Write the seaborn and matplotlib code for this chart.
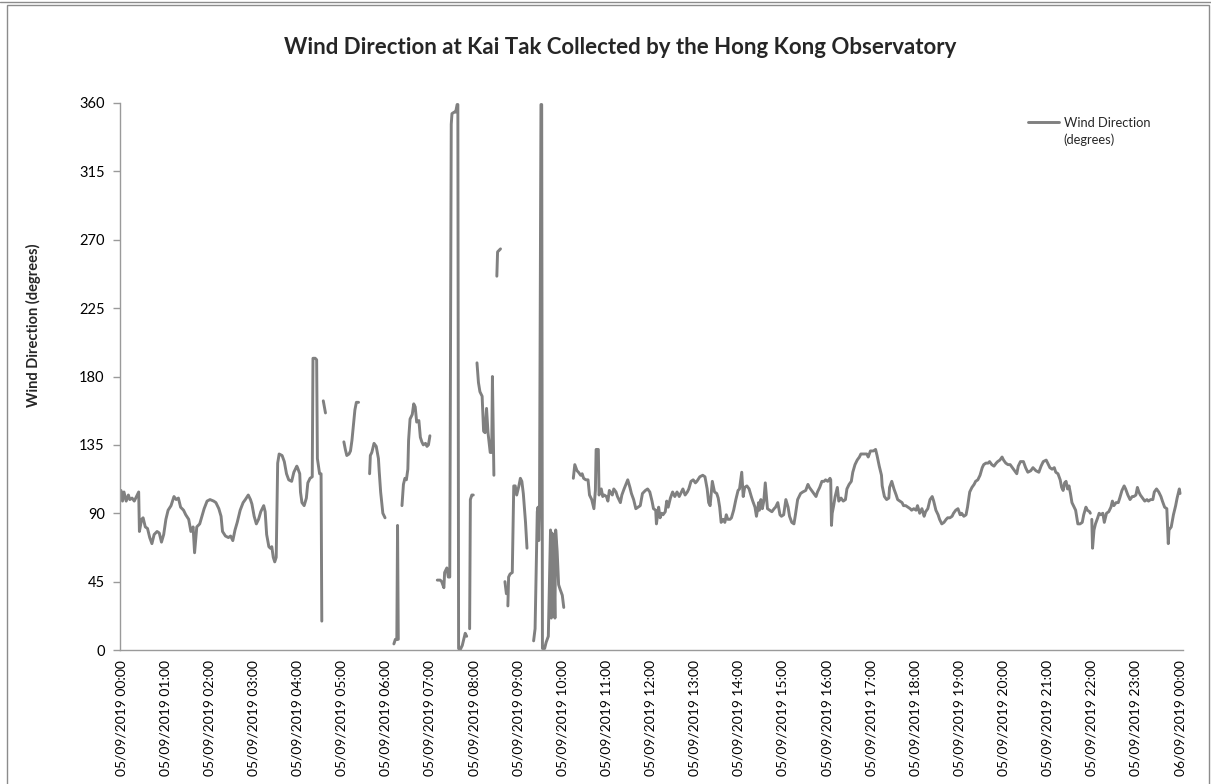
import numpy as np
import pandas as pd
import matplotlib
matplotlib.use("Agg")
import matplotlib.pyplot as plt
import matplotlib.dates as mdates
from matplotlib.lines import Line2D
from matplotlib.patches import Rectangle
import seaborn as sns

# --- Readings: minutes after 05/09/2019 00:00 and direction in degrees ---
# None marks missing readings (gaps in the line)
early_min = [0, 2, 4, 7, 10, 12, 15, 18, 21, 24, 25, 28,
             30, 33, 36, 39, 42, 45, 49, 52, 55, 58, 61, 64,
             68, 72, 75, 78, 81, 85, 88, 92, 95, 98, 100, 103,
             107, 110, 113, 117, 121, 126, 129, 133, 136, 138, 142, 146,
             149, 152, 155, 158, 162, 166, 169, 173, 176, 178, 181, 184,
             187, 190, 194, 196, 198, 201, 203, 205, 207, 209, 211, 213,
             215, 219, 222, 225, 228, 232, 235, 239, 240, 243, 244, 246,
             249, 252, 254, 257, 260, 261, 264, 266, 267, 270, 272, 273,
             274, 275, 278, 290]
early_dir = [105, 98, 104, 98, 102, 99, 100, 98, 101, 104, 78, 86,
             87, 81, 80, 74, 70, 76, 78, 77, 71, 76, 86, 92,
             95, 101, 99, 100, 94, 92, 89, 86, 78, 81, 64, 81,
             83, 88, 93, 98, 99, 98, 97, 93, 88, 78, 75, 74,
             75, 72, 79, 84, 92, 97, 99, 102, 99, 96, 88, 83,
             86, 91, 95, 91, 76, 68, 67, 68, 61, 58, 61, 123,
             129, 128, 124, 116, 112, 111, 117, 121, 120, 116, 104, 97,
             95, 100, 110, 113, 114, 192, 192, 191, 126, 116, 116, 19,
             None, 164, 156, None]

gusty_min = [303, 305, 307, 310, 312, 314, 316, 318, 320, 323, 330, 338,
             339, 341, 344, 347, 350, 351, 353, 356, 359, 365, 371, 373,
             375, 376, 377, 380, 382, 384, 386, 388, 390, 391, 393, 396,
             398, 400, 402, 405, 407, 409, 411, 414, 416, 418, 420, 425,
             430, 434, 436, 439, 440, 443, 445, 447, 449, 450, 453, 455,
             457, 458, 459, 461, 464, 466, 468, 470, 472, 474, 475, 477,
             479, 481, 484, 486, 488, 491, 493, 495, 497, 499, 502, 504,
             505, 507, 509, 511, 512, 516, 519, 522, 524, 525, 526, 527,
             529, 532, 534, 536, 538, 541, 543, 545, 547, 550, 552, 556,
             561, 563, 566, 567, 568, 569, 571, 572, 573, 576, 578, 581,
             584, 585, 586, 588, 590, 591, 593, 595, 597, 600, 602, 608]
gusty_dir = [137, 132, 128, 129, 131, 138, 148, 158, 163, 163, None, 116,
             128, 130, 136, 134, 126, 118, 104, 90, 87, None, 4, 7,
             7, 82, 7, None, 95, 109, 113, 112, 119, 138, 152, 155,
             162, 160, 150, 151, 140, 137, 135, 136, 134, 135, 141, None,
             46, 46, 45, 41, 51, 54, 48, 48, 346, 353, 354, 354,
             359, 359, 1, 0, 3, 7, 11, 9, None, 14, 99, 102,
             102, None, 189, 176, 170, 167, 144, 143, 159, 143, 130, 130,
             180, 115, None, 246, 262, 264, None, 45, 37, None, 29, 48,
             50, 51, 108, 108, 102, 108, 113, 111, 103, 84, 67, None,
             6, 14, 91, 94, 72, 91, 359, 359, 1, 1, 5, 9,
             79, 21, 77, 72, 21, 79, 65, 43, 40, 36, 28, None]

late_min = [615, 617, 620, 622, 625, 627, 629, 632, 635, 637, 640, 643,
            645, 646, 649, 650, 653, 655, 657, 660, 662, 664, 668, 670,
            673, 675, 679, 681, 684, 689, 692, 694, 697, 700, 703, 706,
            709, 713, 716, 719, 722, 724, 727, 728, 731, 733, 735, 737,
            740, 742, 744, 747, 750, 753, 756, 759, 762, 764, 767, 770,
            772, 775, 778, 781, 783, 787, 791, 794, 797, 799, 801, 804,
            807, 810, 812, 814, 816, 819, 821, 823, 825, 828, 830, 833,
            836, 839, 841, 844, 846, 848, 851, 854, 857, 859, 862, 864,
            867, 868, 870, 872, 874, 876, 878, 879, 882, 885, 888, 890,
            893, 896, 898, 901, 904, 907, 909, 912, 915, 917, 920, 924,
            927, 931, 934, 936, 939, 942, 945, 947, 950, 953, 956, 958,
            961, 964, 965, 966, 967, 969, 971, 974, 976, 979, 982, 985,
            987, 990, 993, 995, 998, 1001, 1004, 1006, 1010, 1014, 1016, 1019,
            1023, 1026, 1028, 1031, 1034, 1035, 1038, 1041, 1044, 1045, 1048, 1051,
            1054, 1056, 1059, 1062, 1064, 1067, 1070, 1073, 1075, 1078, 1081, 1083,
            1086, 1089, 1092, 1094, 1097, 1100, 1103, 1105, 1108, 1111, 1113, 1116,
            1119, 1122, 1124, 1127, 1130, 1132, 1135, 1138, 1141, 1143, 1146, 1149,
            1151, 1154, 1157, 1160, 1162, 1165, 1168, 1171, 1173, 1176, 1179, 1181,
            1184, 1187, 1190, 1192, 1195, 1198, 1200, 1203, 1206, 1209, 1212, 1215,
            1218, 1220, 1223, 1227, 1230, 1233, 1237, 1240, 1244, 1248, 1251, 1254,
            1258, 1260, 1263, 1266, 1269, 1271, 1274, 1277, 1279, 1281, 1283, 1285,
            1287, 1289, 1291, 1293, 1296, 1298, 1301, 1304, 1307, 1309, 1312, 1314,
            1317, 1318, 1319, 1320, 1321, 1323, 1325, 1328, 1330, 1332, 1335, 1337,
            1340, 1343, 1346, 1348, 1350, 1353, 1356, 1358, 1361, 1364, 1366, 1369,
            1372, 1375, 1377, 1380, 1382, 1384, 1386, 1389, 1392, 1395, 1397, 1400,
            1403, 1405, 1408, 1411, 1414, 1416, 1419, 1422, 1424, 1425, 1428, 1431,
            1434, 1436, 1439, 1440]
late_dir = [113, 122, 118, 117, 115, 116, 113, 112, 112, 102, 99, 93,
            105, 132, 132, 102, 106, 101, 102, 101, 98, 105, 102, 106,
            104, 101, 97, 102, 106, 112, 107, 103, 99, 93, 94, 95,
            103, 105, 106, 104, 98, 93, 92, 83, 94, 87, 90, 89,
            91, 98, 94, 100, 104, 101, 104, 101, 104, 106, 102, 104,
            106, 111, 112, 110, 111, 114, 115, 114, 106, 97, 95, 111,
            104, 103, 100, 94, 84, 86, 84, 89, 86, 86, 87, 92,
            99, 105, 106, 117, 101, 107, 108, 106, 101, 98, 94, 88,
            97, 92, 99, 93, 98, 110, 99, 93, 92, 91, 93, 94,
            97, 89, 88, 89, 99, 94, 88, 84, 83, 89, 99, 103,
            104, 105, 109, 107, 105, 103, 101, 104, 107, 111, 111, 112,
            111, 113, 112, 82, 90, 95, 101, 107, 98, 100, 98, 99,
            106, 109, 111, 117, 122, 125, 127, 129, 129, 129, 127, 131,
            131, 132, 128, 121, 115, 108, 101, 99, 100, 107, 111, 106,
            102, 99, 98, 97, 95, 95, 94, 93, 92, 93, 92, 95,
            90, 93, 88, 91, 93, 99, 101, 98, 92, 89, 86, 83,
            84, 86, 87, 87, 88, 90, 92, 93, 89, 90, 88, 89,
            94, 104, 107, 109, 111, 112, 115, 120, 122, 123, 123, 124,
            122, 121, 123, 124, 125, 127, 125, 123, 122, 122, 120, 118,
            116, 121, 124, 124, 120, 117, 118, 120, 118, 117, 121, 124,
            125, 123, 120, 119, 120, 117, 116, 112, 107, 105, 110, 111,
            106, 108, 103, 97, 94, 92, 83, 83, 84, 89, 94, 92,
            91, 90, None, 86, 67, 79, 83, 87, 90, 89, 90, 84,
            90, 91, 94, 98, 95, 97, 97, 100, 105, 108, 106, 102,
            99, 101, 101, 102, 107, 104, 102, 100, 98, 99, 98, 99,
            99, 104, 106, 104, 101, 98, 94, 93, 70, 79, 81, 89,
            95, 100, 106, 103]

start_time = pd.Timestamp("2019-09-05 00:00")
y_ticks = [0, 45, 90, 135, 180, 225, 270, 315, 360]
title = "Wind Direction at Kai Tak Collected by the Hong Kong Observatory"
y_title = "Wind Direction (degrees)"
legend_label = ["Wind Direction", "(degrees)"]
line_color = "#808080"
axis_color = "#9a9a9a"

minutes = early_min + gusty_min + late_min
direction = early_dir + gusty_dir + late_dir
assert len(minutes) == len(direction)

df = pd.DataFrame({"minute": minutes, "direction": direction}, dtype=float)
df["time"] = start_time + pd.to_timedelta(df["minute"], unit="min")
# each run between missing readings becomes its own line piece
df["segment"] = df["direction"].isna().cumsum()
df = df.dropna(subset=["direction"])

sns.set_style("white")
plt.rcParams["font.family"] = ["Lato", "DejaVu Sans"]

W, H = 1211, 784
fig = plt.figure(figsize=(W / 100, H / 100), dpi=100)
ax = fig.add_axes([120 / W, 1 - 650 / H, 1063 / W, 547 / H])

sns.lineplot(data=df, x="time", y="direction", units="segment", estimator=None,
             color=line_color, linewidth=2.1, ax=ax, legend=False)

ax.set_ylim(0, 360)
ax.set_yticks(y_ticks)
ax.set_xlim(start_time - pd.Timedelta(minutes=1.4), start_time + pd.Timedelta(minutes=1444))
ax.xaxis.set_major_locator(mdates.HourLocator(interval=1))
ax.xaxis.set_major_formatter(mdates.DateFormatter("%d/%m/%Y %H:%M"))
plt.setp(ax.get_xticklabels(), rotation=90)

ax.tick_params(axis="y", left=True, length=5, width=1, color=axis_color,
               direction="out", pad=6, labelsize=10.5, labelcolor="black")
ax.tick_params(axis="x", bottom=False, length=0, pad=7, labelsize=10, labelcolor="black")
for side in ["top", "right"]:
    ax.spines[side].set_visible(False)
for side in ["left", "bottom"]:
    ax.spines[side].set_color(axis_color)
    ax.spines[side].set_linewidth(1)

ax.set_xlabel("")
ax.set_ylabel(y_title, fontsize=10.5, fontweight="bold")
ax.yaxis.set_label_coords((41 - 120) / 1063, (650 - 325) / 547)

fig.text(620 / W, 1 - 48 / H, title, ha="center", va="center",
         fontsize=16, fontweight="bold")

# legend: sample line with first label line, second line set underneath
handle = Line2D([0], [0], color=line_color, linewidth=2.1)
ax.legend(handles=[handle], labels=[legend_label[0]], loc="center left",
          bbox_to_anchor=(1028 / W, 1 - 123 / H), bbox_transform=fig.transFigure,
          frameon=False, fontsize=9.3, handlelength=2.4, handletextpad=0.4,
          borderpad=0, borderaxespad=0)
fig.text(1063 / W, 1 - 140 / H, legend_label[1], ha="left", va="center", fontsize=9.3)

# chart area border
fig.add_artist(Line2D([0, 1], [1 - 2 / H, 1 - 2 / H], transform=fig.transFigure,
                      color="#8c8c8c", linewidth=1))
fig.add_artist(Rectangle((6.5 / W, -0.01), (1209 - 6.5) / W, 1.01 - 4.5 / H,
                         transform=fig.transFigure, fill=False,
                         edgecolor="#8c8c8c", linewidth=1))

fig.savefig("out.png", dpi=100)
